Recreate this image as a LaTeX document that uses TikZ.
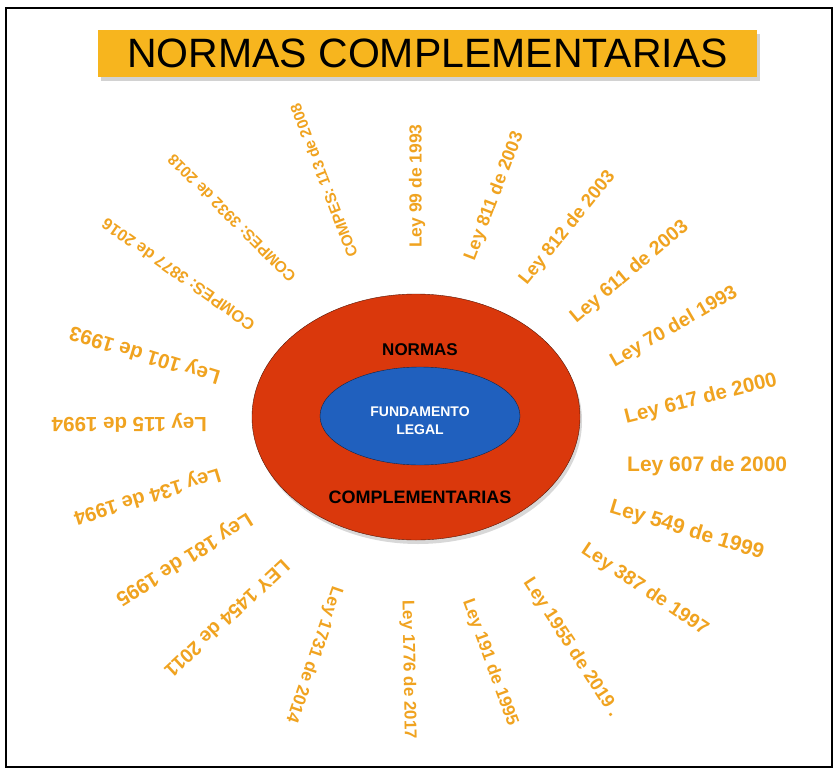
\documentclass[tikz,border=0pt]{standalone}
\usepackage{fontspec}
\setmainfont{Liberation Sans}
\usetikzlibrary{shapes.geometric,shadows}

\definecolor{titlegold}{RGB}{247,181,30}
\definecolor{lawgold}{RGB}{240,163,32}
\definecolor{normared}{RGB}{218,56,12}
\definecolor{fundablue}{RGB}{32,96,190}

\begin{document}
\begin{tikzpicture}[x=1pt,y=-1pt]
\tikzstyle{titlebar}=[fill=titlegold, minimum width=659pt, minimum height=47pt, inner sep=0pt,
  font=\fontsize{41}{41}\selectfont, drop shadow={opacity=0.35,shadow xshift=3pt,shadow yshift=-4pt}]
\tikzstyle{outerring}=[ellipse, draw=black!60!normared, fill=normared, minimum width=328pt,
  minimum height=246pt, inner sep=0pt, drop shadow={opacity=0.3,shadow xshift=2pt,shadow yshift=-4pt}]
\tikzstyle{innerring}=[ellipse, draw=black!60!fundablue, fill=fundablue, minimum width=200pt,
  minimum height=98pt, inner sep=0pt]
\tikzstyle{ringtext}=[inner sep=0pt, font=\bfseries\fontsize{17}{17}\selectfont]
\tikzstyle{lawtext}=[anchor=west, inner sep=0pt, text=lawgold]

% white page with a black frame
\useasboundingbox (0,0) rectangle (838,771);
\fill[white] (0,0) rectangle (838,771);
\draw[line width=1.2pt] (6,8) rectangle (832,767);

% title
\node[titlebar] (title) at (427.5,53.5) {NORMAS COMPLEMENTARIAS};

% the two rings
\node[outerring] (normas) at (416,417) {};
\node[innerring] (fundamento) at (420,416) {};
\node[ringtext] (normaslbl) at (420,350) {NORMAS};
\node[ringtext, font=\bfseries\fontsize{18}{18}\selectfont] (complbl) at (420,497) {COMPLEMENTARIAS};
\node[ringtext, text=white, align=center, font=\bfseries\fontsize{14}{18}\selectfont] (fundalbl) at (420,421) {FUNDAMENTO\\LEGAL};

% laws around the rings
\foreach \i/\px/\py/\ang/\sz/\txt in {
  1/353/257/111/15.5/{COMPES: 113 de 2008},
  2/417/248/90/17.5/{Ley 99 de 1993},
  3/470/260/69/18/{Ley 811 de 2003},
  4/523/283/51/18.5/{Ley 812 de 2003},
  5/573/320/40/19.5/{Ley 611 de 2003},
  6/612/363/30/19.5/{Ley 70 del 1993},
  7/625/418/14/20.5/{Ley 617 de 2000},
  8/627/466/0/21/{Ley 607 de 2000},
  9/610/507/-17/21/{Ley 549 de 1999},
  10/583/548/-34/19.5/{Ley 387 de 1997},
  11/527/580/-57/18.5/{Ley 1955 de 2019 .},
  12/467/600/-70/17.5/{Ley 191 de 1995},
  13/407/600/-89/17/{Ley 1776 de 2017},
  14/337/587/-109/17.5/{Ley 1731 de 2014},
  15/287/563/-137/19.5/{LEY 1454 de 2011},
  16/250/517/-148/20.5/{Ley 181 de 1995},
  17/220/473/-163/20/{Ley 134 de 1994},
  18/207/423/180/20.5/{Ley 115 de 1994},
  19/220/377/163/20.5/{Ley 101 de 1993},
  20/253/327/145/16.4/{COMPES: 3877 de 2016},
  21/293/280/135/15.6/{COMPES: 3932 de 2018}}
  \node[lawtext, rotate=\ang, font=\bfseries\fontsize{\sz}{\sz}\selectfont] (law\i) at (\px,\py) {\txt};

\end{tikzpicture}
\end{document}
